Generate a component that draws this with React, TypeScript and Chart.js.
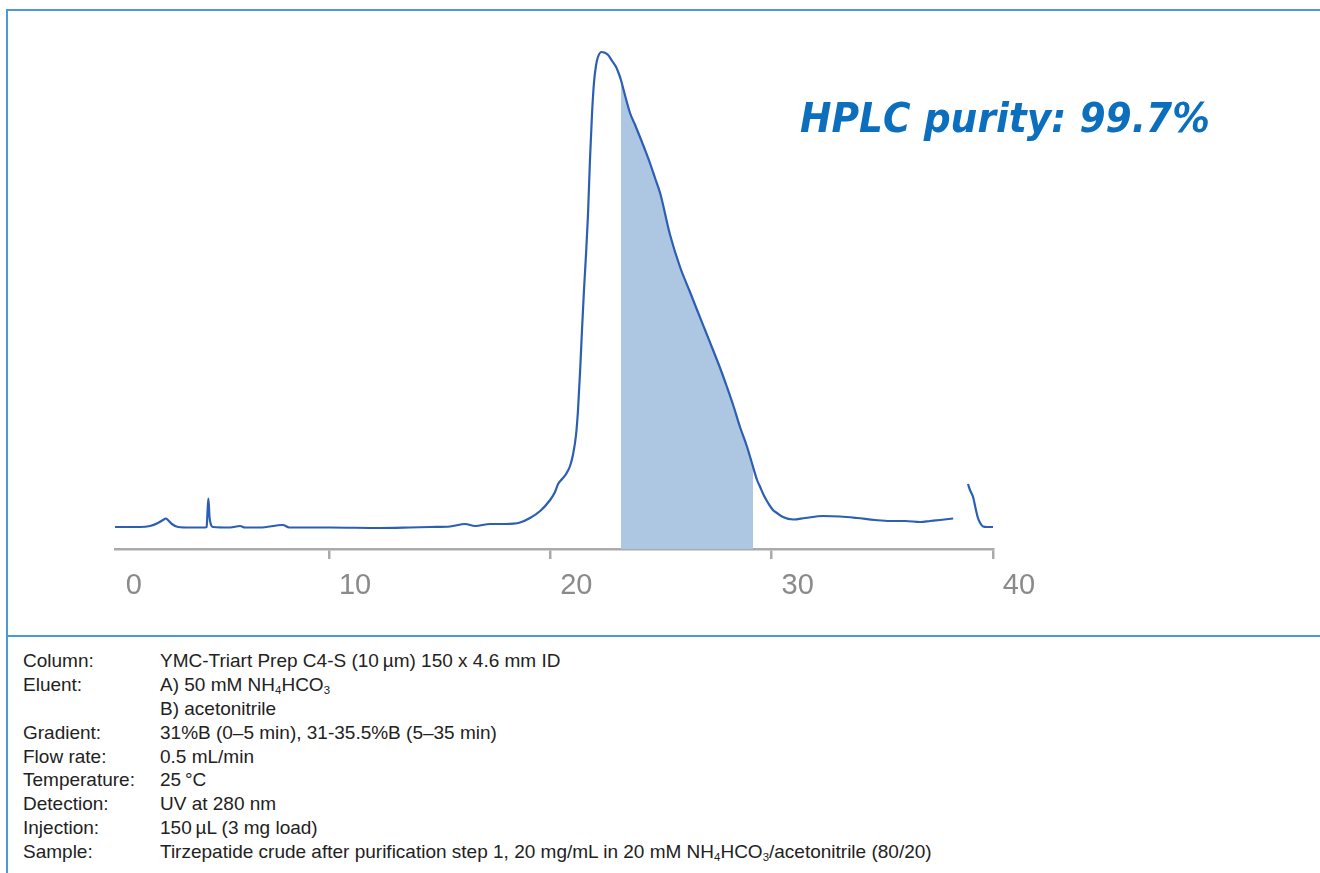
import React, { useEffect, useLayoutEffect, useRef } from 'react';
import { Chart, registerables } from 'chart.js';

Chart.register(...registerables);

// Retention time (min) and detector signal (relative units, baseline = 0)
const retentionTime = [
  0.33, 1.46, 1.91, 2.27, 2.5, 2.63, 2.72, 2.9, 3.18, 3.72, 4.4, 4.47, 4.51, 4.55, 4.6, 4.67, 4.76,
  5.53, 5.98, 6.2, 6.88, 7.92, 8.2, 10.05, 12.3, 13.66, 14.57, 15.47, 16.15, 16.6, 17.28, 17.96,
  18.63, 19.08, 19.54, 19.99, 20.21, 20.35, 20.53, 20.71, 20.89, 21.02, 21.16, 21.25, 21.34, 21.43,
  21.52, 21.61, 21.7, 21.79, 21.88, 21.97, 22.06, 22.15, 22.32, 22.43, 22.61, 22.79, 22.97, 23.1,
  23.19, 23.37, 23.6, 23.83, 24.05, 24.28, 24.5, 24.73, 24.96, 25.41, 25.86, 26.31, 26.63, 26.99,
  27.35, 27.67, 27.98, 28.26, 28.57, 28.89, 29.16, 29.34, 29.48, 29.66, 29.84, 30.06, 30.24, 30.51,
  30.97, 31.51, 32.32, 33.09, 33.86, 34.67, 35.35, 36.03, 36.71, 37.16, 37.61, 38.2, 38.5, 38.87,
  38.96, 39.1, 39.23, 39.32, 39.42, 39.55, 39.73, 40.0,
];
const signal: (number | null)[] = [
  0, 0, 1, 4, 7, 8.5, 7, 3, 0, -0.5, -0.5, 0, 15, 28.5, 10, 2, 0,
  -0.5, 1, -0.5, -0.5, 2, -0.5, -0.5, -1, -0.5, 0, 0.5, 3, 1, 3, 3,
  4.5, 9, 16, 27, 35, 43, 48, 53, 61, 72, 92, 117, 154, 197,
  237, 272, 312, 367, 412, 444, 461, 470, 475, 474.5, 472, 466, 460, 453,
  447, 432, 414, 402, 390, 377, 364, 349, 334, 292, 260, 235, 217, 197,
  177, 159, 140, 122, 100, 80, 60, 47, 40, 31, 24, 17, 14, 10,
  7.5, 9, 11, 10.5, 9, 7, 6, 6, 5, 6, 7, 8.5, null, 43,
  37, 30, 17, 9, 4, 0.5, 0, 0,
];

const axisTicks = [0, 10, 20, 30, 40];
const purityWindow = [23.19, 29.16];
const purityLabel = 'HPLC purity: 99.7%';

const conditionLabels = [
  'Column:', 'Eluent:', '', 'Gradient:', 'Flow rate:', 'Temperature:', 'Detection:', 'Injection:', 'Sample:',
];
const conditionValues = [
  'YMC-Triart Prep C4-S (10\u2009µm) 150 x 4.6 mm ID',
  'A) 50 mM NH_4HCO_3',
  'B) acetonitrile',
  '31%B (0–5 min), 31-35.5%B (5–35 min)',
  '0.5 mL/min',
  '25\u2009°C',
  'UV at 280 nm',
  '150\u2009µL (3 mg load)',
  'Tirzepatide crude after purification step 1, 20 mg/mL in 20 mM NH_4HCO_3/acetonitrile (80/20)',
];

const LINE_COLOR = '#2b5fb3';
const FILL_COLOR = '#adc6e2';
const FRAME_COLOR = '#4a9ad6';
const AXIS_COLOR = '#aaaaaa';

function renderWithSubs(text: string) {
  const parts = text.split(/_(\d)/);
  return parts.map((p, i) =>
    i % 2 === 1 ? (
      <sub key={i} style={{ fontSize: '0.6em', verticalAlign: '-0.3em', lineHeight: 0 }}>{p}</sub>
    ) : (
      <span key={i}>{p}</span>
    )
  );
}

export default function App() {
  const canvasRef = useRef<HTMLCanvasElement | null>(null);
  const titleRef = useRef<HTMLDivElement | null>(null);

  useLayoutEffect(() => {
    const el = titleRef.current;
    if (el) {
      const w = el.offsetWidth;
      if (w > 0) el.style.transform = `scaleX(${410 / w})`;
    }
  }, []);

  useEffect(() => {
    if (!canvasRef.current) return;
    const points = retentionTime.map((t, i) => ({ x: t, y: signal[i] as number }));
    const fillPoints = points.filter(
      (p) => p.x >= purityWindow[0] && p.x <= purityWindow[1] && p.y !== null
    );
    const chart = new Chart(canvasRef.current, {
      type: 'line',
      data: {
        datasets: [
          {
            data: points,
            borderColor: LINE_COLOR,
            borderWidth: 2.2,
            pointRadius: 0,
            fill: false,
            cubicInterpolationMode: 'monotone',
            spanGaps: false,
            order: 0,
          },
          {
            data: fillPoints,
            borderColor: 'rgba(0,0,0,0)',
            borderWidth: 0,
            backgroundColor: FILL_COLOR,
            pointRadius: 0,
            fill: 'start',
            cubicInterpolationMode: 'monotone',
            order: 1,
          },
        ],
      },
      options: {
        animation: false,
        responsive: false,
        devicePixelRatio: 1,
        layout: { padding: { left: 115, right: 327, top: 15, bottom: 0 } },
        plugins: {
          legend: { display: false },
          tooltip: { enabled: false },
        },
        scales: {
          x: {
            type: 'linear',
            min: 0.33,
            max: 40,
            afterBuildTicks: (s: any) => {
              s.ticks = axisTicks.map((v) => ({ value: v }));
            },
            afterFit: (s: any) => {
              s.height = 85;
            },
            border: { display: true, color: AXIS_COLOR, width: 2.5 },
            grid: {
              drawOnChartArea: false,
              drawTicks: true,
              tickLength: 10,
              lineWidth: 2.5,
              color: (c: any) => (c.tick && c.tick.value < 0.33 ? 'rgba(0,0,0,0)' : AXIS_COLOR),
            },
            ticks: {
              autoSkip: false,
              maxRotation: 0,
              labelOffset: 26,
              padding: 10,
              color: '#8a8a8a',
              font: { family: '"Liberation Sans", Arial, sans-serif', size: 29 },
              callback: (v: any) => String(v),
            },
          },
          y: { display: false, min: -22, max: 512 },
        },
      },
    } as any);
    return () => chart.destroy();
  }, []);

  return (
    <div
      style={{
        position: 'absolute',
        left: 0,
        top: 0,
        width: 1320,
        height: 873,
        overflow: 'hidden',
        background: '#ffffff',
      }}
    >
      <div
        style={{
          position: 'absolute',
          left: 6,
          top: 9,
          width: 1314,
          height: 864,
          borderTop: `2px solid ${FRAME_COLOR}`,
          borderLeft: `2px solid ${FRAME_COLOR}`,
          boxSizing: 'border-box',
        }}
      />
      <div
        style={{ position: 'absolute', left: 6, top: 635, width: 1314, height: 2, background: FRAME_COLOR }}
      />
      <canvas
        ref={canvasRef}
        width={1320}
        height={634}
        style={{ position: 'absolute', left: 0, top: 0, width: 1320, height: 634 }}
      />
      <div
        ref={titleRef}
        style={{
          position: 'absolute',
          left: 800,
          top: 98,
          font: 'italic bold 41px "DejaVu Sans", sans-serif',
          lineHeight: '41px',
          color: '#0c6fbd',
          whiteSpace: 'nowrap',
          transformOrigin: 'left top',
        }}
      >
        {purityLabel}
      </div>
      <div
        style={{
          position: 'absolute',
          left: 23,
          top: 649,
          font: '19px "Liberation Sans", Arial, sans-serif',
          lineHeight: '23.9px',
          color: '#222222',
          whiteSpace: 'nowrap',
        }}
      >
        {conditionLabels.map((lab, i) => (
          <div key={i} style={{ display: 'flex', height: '23.9px' }}>
            <span style={{ width: 137, flex: 'none' }}>{lab}</span>
            <span>{renderWithSubs(conditionValues[i])}</span>
          </div>
        ))}
      </div>
    </div>
  );
}
